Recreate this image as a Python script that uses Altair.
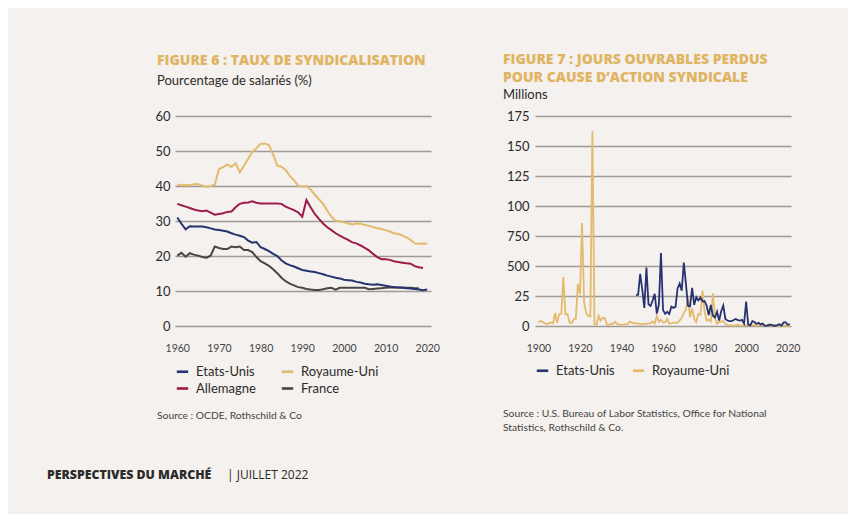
import altair as alt
import pandas as pd

# ---------------- data: figure 6 (union density, %) ----------------
years6 = list(range(1960, 2021))
us6 = [31.0, 29.2, 27.6, 28.5, 28.4, 28.4, 28.4, 28.2, 27.9, 27.6,
       27.4, 27.2, 27.0, 26.5, 26.1, 25.8, 25.4, 24.4, 23.8, 24.0,
       22.5, 22.0, 21.4, 20.6, 20.0, 18.8, 17.9, 17.4, 17.0, 16.5,
       16.0, 15.8, 15.6, 15.4, 15.1, 14.8, 14.4, 14.1, 13.8, 13.6,
       13.2, 13.1, 13.0, 12.6, 12.4, 12.1, 11.9, 11.8, 11.9, 11.7,
       11.5, 11.3, 11.1, 11.0, 10.9, 10.8, 10.7, 10.6, 10.4, 10.2, 10.4]
uk6 = [40.4, 40.2, 40.3, 40.2, 40.5, 40.5, 40.1, 39.7, 40.0, 40.4,
       44.8, 45.4, 46.1, 45.5, 46.5, 43.9, 45.8, 47.7, 49.8, 50.8,
       52.1, 52.1, 51.7, 49.1, 45.8, 45.5, 44.6, 42.9, 41.7, 40.1,
       39.8, 40.0, 39.0, 37.5, 36.2, 34.9, 33.0, 31.2, 30.1, 29.9,
       29.6, 29.3, 29.0, 29.3, 29.2, 28.9, 28.6, 28.3, 27.9, 27.7,
       27.4, 27.0, 26.5, 26.3, 25.9, 25.3, 24.6, 23.6, 23.5, 23.6, 23.5]
de6 = [34.9, 34.5, 34.1, 33.7, 33.3, 33.0, 32.8, 33.0, 32.4, 31.8,
       32.0, 32.2, 32.6, 32.7, 33.9, 34.9, 35.2, 35.3, 35.6, 35.2,
       35.0, 35.0, 35.0, 35.0, 35.0, 34.9, 34.1, 33.6, 33.1, 32.5,
       31.2, 36.0, 33.9, 32.0, 30.6, 29.3, 28.2, 27.4, 26.5, 25.8,
       25.2, 24.6, 23.9, 23.6, 23.0, 22.3, 21.6, 20.6, 19.7, 19.1,
       19.1, 18.9, 18.5, 18.3, 18.1, 17.9, 17.8, 17.1, 16.8, 16.6]
fr6 = [20.1, 20.9, 19.8, 20.8, 20.4, 20.1, 19.7, 19.5, 20.1, 22.7,
       22.3, 22.0, 22.0, 22.7, 22.5, 22.7, 21.7, 21.7, 21.1, 19.7,
       18.5, 17.9, 17.2, 16.2, 15.1, 13.8, 12.8, 12.1, 11.6, 11.1,
       10.9, 10.6, 10.4, 10.3, 10.3, 10.5, 10.8, 10.9, 10.4, 10.9,
       10.9, 10.9, 10.9, 10.9, 10.9, 10.9, 10.5, 10.6, 10.7, 10.8,
       10.9, 11.0, 11.1, 11.0, 11.0, 10.9, 10.9, 10.8, 10.8]

# ---------------- data: figure 7 (working days lost, millions) ----------------
years_uk7 = list(range(1900, 2022))
uk7 = [3.09, 4.13, 3.44, 2.32, 1.46, 2.37, 3.02, 2.15, 10.79, 2.69,
       9.87, 10.16, 40.89, 9.80, 9.88, 2.95, 2.45, 5.65, 5.88, 34.97,
       26.57, 85.87, 19.85, 10.67, 8.42, 7.95, 162.23, 1.17, 1.39, 8.29,
       4.40, 6.98, 6.49, 1.07, 0.96, 1.96, 1.83, 3.41, 1.33, 1.36,
       0.94, 1.08, 1.53, 1.81, 3.71, 2.84, 2.16, 2.43, 1.94, 1.81,
       1.39, 1.69, 1.79, 2.18, 2.46, 3.78, 2.08, 8.41, 3.46, 5.27,
       3.02, 3.05, 5.80, 1.76, 2.28, 2.93, 2.40, 2.79, 4.69, 6.85,
       10.98, 13.55, 23.91, 7.20, 14.75, 6.01, 3.28, 10.14, 9.41, 29.47,
       11.96, 4.27, 5.31, 3.75, 27.14, 6.40, 1.92, 3.55, 3.70, 4.13,
       1.90, 0.76, 0.53, 0.65, 0.28, 0.42, 1.30, 0.24, 0.28, 0.24,
       0.50, 0.53, 1.32, 0.50, 0.90, 0.16, 0.75, 1.04, 0.76, 0.46,
       0.37, 1.39, 0.25, 0.44, 0.79, 0.17, 0.32, 0.28, 0.27, 0.23,
       0.04, 0.07]
years_us7 = list(range(1947, 2022))
us7 = [25.7, 26.1, 43.4, 30.4, 15.1, 48.8, 18.1, 16.6, 21.2, 26.8,
       10.3, 17.9, 60.9, 13.3, 10.1, 11.8, 10.0, 16.2, 15.1, 16.0,
       31.3, 35.4, 29.4, 52.8, 35.5, 16.8, 16.3, 31.8, 17.6, 24.0,
       21.3, 23.8, 20.4, 20.8, 16.9, 9.1, 17.5, 8.5, 7.1, 11.9,
       4.5, 12.3, 17.0, 5.9, 4.6, 4.0, 4.0, 5.0, 5.8, 4.9,
       4.5, 5.1, 2.0, 20.4, 1.2, 0.7, 4.1, 3.3, 1.7, 2.7,
       1.3, 2.0, 0.1, 0.3, 1.0, 1.1, 0.3, 0.2, 0.7, 1.5,
       0.4, 2.8, 3.2, 1.0, 1.6]

countries6 = ["Etats-Unis", "Royaume-Uni", "Allemagne", "France"]
colors6 = ["#263370", "#e3ba6e", "#9d1c4b", "#4a4542"]
countries7 = ["Etats-Unis", "Royaume-Uni"]
colors7 = ["#263370", "#e3ba6e"]

ticks6 = [1960, 1970, 1980, 1990, 2000, 2010, 2020]
ticks7 = [1900, 1920, 1940, 1960, 1980, 2000, 2020]
yticks6 = [0, 10, 20, 30, 40, 50, 60]
yticks7 = [0, 25, 50, 75, 100, 125, 150, 175]
ylabels7 = ["0", "25", "500", "750", "100", "125", "150", "175"]

title6 = "FIGURE 6 : TAUX DE SYNDICALISATION"
sub6 = "Pourcentage de salariés (%)"
title7 = ["FIGURE 7 : JOURS OUVRABLES PERDUS", "POUR CAUSE D\u2019ACTION SYNDICALE"]
sub7 = "Millions"
source6 = ["Source : OCDE, Rothschild & Co"]
source7 = ["Source : U.S. Bureau of Labor Statistics, Office for National",
           "Statistics, Rothschild & Co."]
footer_bold = "PERSPECTIVES DU MARCHÉ"
footer_reg = "|  JUILLET 2022"

# ---------------- tables ----------------
rows6 = []
for name, vals in [("France", fr6), ("Allemagne", de6), ("Royaume-Uni", uk6), ("Etats-Unis", us6)]:
    for y, v in zip(years6, vals):
        rows6.append({"annee": y, "valeur": v, "pays": name})
df6 = pd.DataFrame(rows6)

rows7 = []
for name, yrs, vals in [("Royaume-Uni", years_uk7, uk7), ("Etats-Unis", years_us7, us7)]:
    for y, v in zip(yrs, vals):
        rows7.append({"annee": y, "valeur": v, "pays": name})
df7 = pd.DataFrame(rows7)

FONT = "Lato"
TITLE_FONT = "Open Sans"
GOLD = "#e0b462"
GRID = "#9f9a95"
TXT = "#2b2b2b"

label_expr7 = " : ".join(
    [f"datum.value == {v} ? '{l}'" for v, l in zip(yticks7, ylabels7)]
) + " : datum.label"

def legend(x, y, colpad):
    return alt.Legend(
        title=None, orient="none", legendX=x, legendY=y, direction="horizontal",
        columns=2, symbolType="stroke", symbolSize=130, symbolStrokeWidth=2.6,
        labelFont=FONT, labelFontSize=13, labelColor=TXT, columnPadding=colpad,
        rowPadding=2, labelOffset=6, symbolOffset=0,
    )

# ---------------- figure 6 ----------------
lines6 = alt.Chart(df6).mark_line(strokeWidth=2).encode(
    x=alt.X("annee:Q", scale=alt.Scale(domain=[1959.45, 2020.9], nice=False, zero=False),
            axis=alt.Axis(values=ticks6, format="d", title=None, grid=False, domain=False,
                          ticks=False, labelFont=FONT, labelFontSize=10.5, labelColor="#444",
                          labelPadding=17)),
    y=alt.Y("valeur:Q", scale=alt.Scale(domain=[0, 60], nice=False),
            axis=alt.Axis(values=yticks6, title=None, domain=False, ticks=False,
                          gridColor=GRID, gridWidth=1.3, labelFont=FONT, labelFontSize=13,
                          labelColor=TXT, labelPadding=5)),
    color=alt.Color("pays:N", scale=alt.Scale(domain=countries6, range=colors6),
                    sort=countries6, legend=legend(0, 248, 20)),
    detail="pays:N",
)

src6 = alt.Chart(pd.DataFrame({"t": [source6]})).mark_text(
    align="left", baseline="middle", font=FONT, fontSize=10.3, color="#444", lineHeight=14
).encode(x=alt.value(-18), y=alt.value(300), text="t")

foot_b = alt.Chart(pd.DataFrame({"t": [footer_bold]})).mark_text(
    align="left", baseline="middle", font=TITLE_FONT, fontSize=12.3, fontWeight=800, color=TXT
).encode(x=alt.value(-128), y=alt.value(359), text="t:N")
foot_r = alt.Chart(pd.DataFrame({"t": [footer_reg]})).mark_text(
    align="left", baseline="middle", font=TITLE_FONT, fontSize=12, color=TXT
).encode(x=alt.value(52), y=alt.value(359), text="t:N")

fig6 = alt.layer(lines6, src6, foot_b, foot_r).properties(
    width=256, height=210,
    title=alt.TitleParams(
        text=title6, subtitle=sub6, anchor="start", frame="group", dx=-18,
        font=TITLE_FONT, fontSize=14, fontWeight=800, color=GOLD,
        subtitleFont=FONT, subtitleFontSize=13, subtitleColor=TXT, subtitlePadding=7,
        offset=22,
    ),
)

# ---------------- figure 7 ----------------
lines7 = alt.Chart(df7).mark_line(strokeWidth=1.8).encode(
    x=alt.X("annee:Q", scale=alt.Scale(domain=[1898.36, 2021.6], nice=False, zero=False),
            axis=alt.Axis(values=ticks7, format="d", title=None, grid=False, domain=False,
                          ticks=False, labelFont=FONT, labelFontSize=10.5, labelColor="#444",
                          labelPadding=17)),
    y=alt.Y("valeur:Q", scale=alt.Scale(domain=[0, 175], nice=False),
            axis=alt.Axis(values=yticks7, title=None, domain=False, ticks=False,
                          gridColor=GRID, gridWidth=1.3, labelFont=FONT, labelFontSize=13,
                          labelColor=TXT, labelPadding=6, labelExpr=label_expr7)),
    color=alt.Color("pays:N", scale=alt.Scale(domain=countries7, range=colors7),
                    sort=countries7, legend=legend(0, 247, 12)),
    detail="pays:N",
)

src7 = alt.Chart(pd.DataFrame({"t": [source7]})).mark_text(
    align="left", baseline="middle", font=FONT, fontSize=10.3, color="#444", lineHeight=14
).encode(x=alt.value(-32), y=alt.value(298), text="t")

fig7 = alt.layer(lines7, src7).properties(
    width=256, height=210,
    title=alt.TitleParams(
        text=title7, subtitle=sub7, anchor="start", frame="group", dx=-32,
        font=TITLE_FONT, fontSize=14, fontWeight=800, color=GOLD, lineHeight=18,
        subtitleFont=FONT, subtitleFontSize=13, subtitleColor=TXT, subtitlePadding=4,
        offset=8,
    ),
)

chart = alt.hconcat(fig6, fig7, spacing=63).resolve_scale(color="independent").properties(
    background="#f4f1ee",
    padding={"left": 39, "top": 45, "right": 48, "bottom": 32},
).configure_view(stroke=None)

chart.save("out.html", embed_options={"renderer": "svg", "actions": False})
